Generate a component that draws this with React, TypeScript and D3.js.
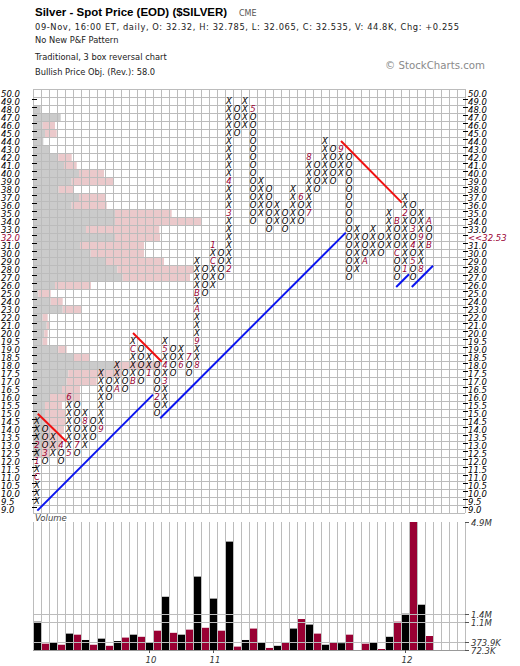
import React from "react";
import * as d3 from "d3";

// ---------- DATA ----------
const priceRows: number[] = [
  50, 49, 48, 47, 46, 45, 44, 43, 42, 41, 40, 39, 38, 37, 36, 35, 34, 33, 32, 31, 30, 29, 28, 27, 26, 25, 24, 23, 22, 21, 20,
  19.5, 19, 18.5, 18, 17.5, 17, 16.5, 16, 15.5, 15, 14.5, 14, 13.5, 13, 12.5, 12, 11.5, 11, 10.5, 10, 9.5, 9,
];

// P&F columns: first column is X, then alternating
const colFrom: number[] = [
  9.5, 14, 12.5, 13, 12.5, 15.5, 13, 14.5, 14, 17,
  16.5, 17.5, 17, 19, 17.5, 18, 15.5, 19, 18, 18.5,
  18, 28, 26, 30, 28, 48, 46, 48, 35, 38,
  34, 35, 34, 37, 35, 41, 39, 43, 40, 42,
  28, 32, 30, 32, 31, 34, 28, 36, 28, 34,
];
const colTo: number[] = [
  14.5, 12, 13.5, 12, 16, 12.5, 15, 13.5, 17.5, 16,
  18, 16.5, 19.5, 17, 18.5, 15, 19.5, 17.5, 19, 17.5,
  29, 25, 31, 27, 49, 45, 49, 34, 39, 33,
  36, 33, 38, 34, 42, 38, 44, 39, 43, 27,
  33, 29, 33, 30, 35, 27, 37, 27, 35, 31,
];

// month markers: [column, price, label]
const monthMarkers: [number, number, string][] = [
  [0, 11, "C"], [0, 12, "1"], [0, 13, "2"], [1, 12.5, "3"], [3, 13, "4"], [4, 12.5, "5"], [4, 16, "6"],
  [5, 13, "7"], [6, 14.5, "8"], [8, 14, "9"], [10, 16.5, "A"], [12, 17, "B"], [12, 19, "C"], [14, 17.5, "1"],
  [15, 16, "2"], [16, 17, "3"], [16, 18, "4"], [16, 19, "5"], [18, 18, "6"], [19, 18.5, "7"], [20, 18, "8"],
  [20, 19.5, "9"], [20, 23, "A"], [20, 25, "B"], [22, 29, "C"], [22, 31, "1"], [24, 28, "2"], [24, 35, "3"],
  [24, 39, "4"], [27, 48, "5"], [33, 37, "6"], [34, 35, "7"], [34, 42, "8"], [38, 43, "9"], [41, 29, "A"],
  [45, 34, "B"], [45, 30, "C"], [46, 28, "1"], [46, 35, "2"], [47, 33, "3"], [47, 31, "4"], [47, 29, "5"],
  [48, 28, "8"], [48, 32, "9"], [49, 34, "A"], [49, 31, "B"],
];

// column volume (thousands)
const volume: number[] = [
  1140, 310, 360, 270, 690, 650, 450, 270, 500, 230,
  410, 540, 650, 570, 360, 800, 2080, 720, 650, 840,
  2840, 910, 2010, 800, 4160, 200, 450, 880, 360, 150,
  230, 360, 880, 1240, 1030, 690, 270, 360, 330, 650,
  72.3, 310, 360, 110, 570, 1140, 1440, 4900, 1780, 600,
];
const volTickValues: number[] = [4900, 1400, 1100, 373.9, 72.3];
const volTickLabels: string[] = ["4.9M", "1.4M", "1.1M", "373.9K", "72.3K"];
const volGridValues: number[] = [1400, 1100, 373.9];

// volume by price
const vbpPrices: number[] = [
  48, 47, 46, 45, 44, 43, 42, 41, 40, 39, 38, 37, 36, 35, 34, 33, 32, 31, 30, 29, 28, 27, 26, 25, 24, 23, 22, 21, 20,
  19.5, 19, 18.5, 18, 17.5, 17, 16.5, 16, 15.5, 15, 14.5, 14, 13.5, 13, 12.5,
];
const vbpUp: number[] = [
  7.7, 27.7, 9.7, 12, 10.3, 16, 25.3, 31, 46, 38.7, 25.7, 46, 38.7, 82, 82, 53, 82, 47, 57.7, 73, 84.3, 89.7, 22, 5.3,
  17.7, 29.7, 9.7, 13.7, 11.3, 9.7, 25.3, 40.3, 82, 35.3, 33.7, 29, 17, 12, 12, 12, 12, 11, 9, 7,
];
const vbpDown: number[] = [
  0, 0, 12.3, 11.7, 0, 0, 13.4, 12.7, 25, 42.3, 15.3, 26, 35, 56.7, 86.7, 73.3, 45, 64, 53.3, 58, 76, 67.3, 36, 12.4,
  12, 19, 5, 3.3, 3.4, 4.6, 8.4, 16.7, 45, 53.7, 30, 18, 30, 17, 21, 21, 19, 18, 18, 10,
];

// trend lines: [col1, row1, col2, row2] (column / row index at box centre)
const blueLines: number[][] = [
  [0.04, 52.2, 14.5, 37.7],
  [15.4, 40.65, 38.6, 17.45],
  [44.9, 24.25, 46.5, 22.65],
  [46.85, 24.25, 49.5, 21.6],
];
const redLines: number[][] = [
  [0.1, 40.1, 3.7, 43.6],
  [12.0, 30.0, 15.6, 33.6],
  [38.0, 6.0, 45.6, 13.7],
];

const xLabels: [number, string][] = [[14, "10"], [22, "11"], [46, "12"]];

const headerLines: string[] = [
  "09-Nov, 16:00 ET, daily, O: 32.32, H: 32.785, L: 32.065, C: 32.535, V: 44.8K, Chg: +0.255",
  "No New P&F Pattern",
  "Traditional, 3 box reversal chart",
  "Bullish Price Obj. (Rev.): 58.0",
];

// ---------- LAYOUT ----------
const W = 520;
const H = 666;
const nCols = 54;
const nRows = priceRows.length;
const xs = d3.scaleLinear().domain([0, nCols]).range([33, 465]);
const ys = d3.scaleLinear().domain([0, nRows]).range([89, 513]);
const vs = d3.scaleLinear().domain([72.3, 4900]).range([650, 522]);
const vbpScale = d3.scaleLinear().domain([0, 100]).range([0, 100]);

const rowOf = (p: number) => (p >= 20 ? 50 - p : 30 + (20 - p) * 2);
const cx = (c: number) => xs(c + 0.5);
const cy = (r: number) => ys(r + 0.5);

const MAROON = "#990033";
const GRID = "#bcbcbc";
const FONT = "'DejaVu Sans', Verdana, sans-serif";

export default function App() {
  const marks: JSX.Element[] = [];
  const markerSet = new Map<string, string>();
  monthMarkers.forEach(([c, p, l]) => markerSet.set(c + "_" + rowOf(p), l));
  colFrom.forEach((from, i) => {
    const type = i % 2 === 0 ? "X" : "O";
    const r1 = rowOf(from);
    const r2 = rowOf(colTo[i]);
    const lo = Math.min(r1, r2);
    const hi = Math.max(r1, r2);
    for (let r = lo; r <= hi; r++) {
      const key = i + "_" + r;
      const m = markerSet.get(key);
      marks.push(
        <text
          key={key}
          x={cx(i)}
          y={cy(r) + 3.1}
          textAnchor="middle"
          fontSize={8.5}
          fontStyle="italic"
          fontFamily={FONT}
          fill={m ? MAROON : "#000"}
        >
          {m ?? type}
        </text>
      );
    }
  });

  const gridV = d3.range(nCols + 1);
  const gridH = d3.range(nRows + 1);

  return (
    <div style={{ position: "absolute", left: 0, top: 0 }}>
      <svg width={W} height={H} viewBox={`0 0 ${W} ${H}`} style={{ display: "block", background: "#fff" }}>
        {/* header */}
        <text x={35} y={16} fontFamily="'Liberation Sans', Arial, sans-serif" fontWeight="bold" fontSize={11.5} fill="#000">
          Silver - Spot Price (EOD) ($SILVER)
        </text>
        <text x={239} y={16} fontFamily={FONT} fontSize={8} fill="#555">CME</text>
        {headerLines.map((t, i) => (
          <text
            key={t}
            x={35}
            y={[29.5, 43, 59.5, 74.5][i]}
            fontFamily={FONT}
            fontSize={8.3}
            fill="#222"
            textLength={i === 0 ? 424 : undefined}
            lengthAdjust="spacing"
          >
            {t}
          </text>
        ))}
        <text x={385} y={68.5} fontFamily={FONT} fontSize={10} fill="#8a8a8a" textLength={100} lengthAdjust="spacingAndGlyphs">
          © StockCharts.com
        </text>

        {/* volume by price */}
        {vbpPrices.map((p, i) => {
          const r = rowOf(p);
          const g = vbpScale(vbpUp[i]);
          const d = vbpScale(vbpDown[i]);
          return (
            <g key={"vbp" + p}>
              <rect x={xs(0)} y={ys(r)} width={g} height={ys(1) - ys(0)} fill="#cbcbcb" />
              {d > 0 && <rect x={xs(0) + g} y={ys(r)} width={d} height={ys(1) - ys(0)} fill="#ebc9cb" />}
            </g>
          );
        })}

        {/* grid */}
        <g stroke={GRID} strokeWidth={1} shapeRendering="crispEdges">
          {gridV.map((i) => (
            <line key={"gv" + i} x1={xs(i)} x2={xs(i)} y1={ys(0)} y2={ys(nRows)} />
          ))}
          {gridH.map((k) => (
            <line key={"gh" + k} x1={xs(0)} x2={xs(nCols)} y1={ys(k)} y2={ys(k)} />
          ))}
        </g>

        {/* axis labels */}
        {priceRows.map((p, k) => {
          const isLast = p === 32;
          return (
            <g key={"pl" + p}>
              {k > 0 && (
                <>
                  <line x1={xs(0) - 1} x2={xs(0) + 4} y1={cy(k) - 2} y2={cy(k) - 2} stroke="#000" strokeWidth={1} shapeRendering="crispEdges" />
                  <line x1={xs(nCols) - 2} x2={xs(nCols) + 3} y1={cy(k) - 2} y2={cy(k) - 2} stroke="#000" strokeWidth={1} shapeRendering="crispEdges" />
                </>
              )}
              <text x={1} y={cy(k) + 3.5} fontFamily={FONT} fontStyle="italic" fontSize={8.5} fill={isLast ? MAROON : "#000"}>
                {p.toFixed(1)}
              </text>
              <text x={468} y={cy(k) + 3.5} fontFamily={FONT} fontStyle="italic" fontSize={8.5} fill={isLast ? MAROON : "#000"}>
                {isLast ? "<<32.53" : p.toFixed(1)}
              </text>
            </g>
          );
        })}

        {/* marks */}
        {marks}

        {/* trend lines */}
        {blueLines.map((l, i) => (
          <line key={"bl" + i} x1={cx(l[0])} y1={cy(l[1])} x2={cx(l[2])} y2={cy(l[3])} stroke="#0a14f0" strokeWidth={2} />
        ))}
        {redLines.map((l, i) => (
          <line key={"rl" + i} x1={cx(l[0])} y1={cy(l[1])} x2={cx(l[2])} y2={cy(l[3])} stroke="#f01010" strokeWidth={2} />
        ))}

        {/* volume panel */}
        <text x={35} y={521} fontFamily={FONT} fontStyle="italic" fontSize={8.5} fill="#444">Volume</text>
        {volume.map((v, i) => (
          <rect
            key={"v" + i}
            x={xs(i) + 1}
            y={vs(v)}
            width={xs(1) - xs(0) - 1}
            height={vs(72.3) - vs(v)}
            fill={i % 2 === 0 ? "#000" : MAROON}
          />
        ))}
        <g stroke={GRID} strokeWidth={1} shapeRendering="crispEdges">
          {gridV.map((i) => (
            <line key={"vv" + i} x1={xs(i)} x2={xs(i)} y1={vs(4900)} y2={vs(72.3)} />
          ))}
          {volGridValues.map((v) => (
            <line key={"vh" + v} x1={xs(0)} x2={xs(nCols)} y1={vs(v)} y2={vs(v)} />
          ))}
          <line x1={xs(0)} x2={xs(nCols)} y1={vs(72.3)} y2={vs(72.3)} stroke="#999" />
        </g>
        {volTickValues.map((v, i) => (
          <g key={"vt" + v}>
            <line x1={xs(nCols)} x2={xs(nCols) + 4} y1={vs(v)} y2={vs(v)} stroke="#555" shapeRendering="crispEdges" />
            <text x={471} y={vs(v) + 3.5} fontFamily={FONT} fontStyle="italic" fontSize={8.5} fill="#333">
              {volTickLabels[i]}
            </text>
          </g>
        ))}
        {xLabels.map(([c, l]) => (
          <g key={"xl" + l}>
            <line x1={cx(c)} x2={cx(c)} y1={vs(72.3)} y2={vs(72.3) + 3} stroke="#555" shapeRendering="crispEdges" />
            <text x={cx(c) + 2} y={663} textAnchor="middle" fontFamily={FONT} fontStyle="italic" fontSize={8.5} fill="#333">
              {l}
            </text>
          </g>
        ))}
      </svg>
    </div>
  );
}
